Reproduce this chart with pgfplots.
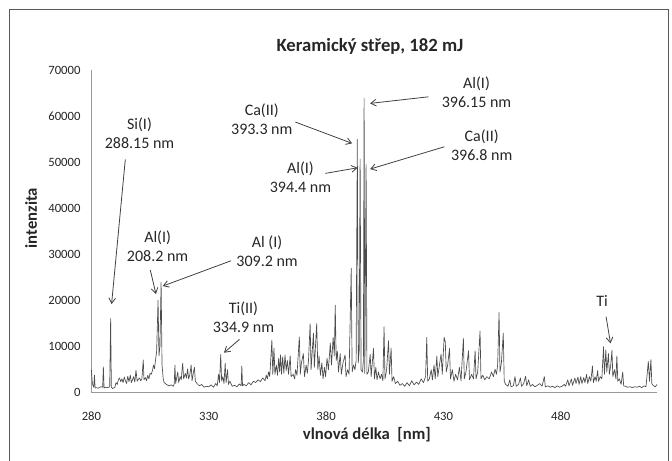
\documentclass[border=0pt]{standalone}
\usepackage{fontspec}
\setmainfont{Carlito}
\usepackage{pgfplots}
\pgfplotsset{compat=1.18}
\usetikzlibrary{arrows.meta}
\tikzset{
  ann/.style={align=center, font=\fontsize{12}{14.25}\selectfont, text=black!85, inner sep=0pt},
  arr/.style={black!75, line width=0.6pt, -{Straight Barb[length=4pt,width=5pt]}},
}
\begin{document}
\begin{tikzpicture}
\path[use as bounding box] (0,0) rectangle (504pt,345.75pt);
\draw[black!65, line width=0.9pt] (7.1pt,-2pt) -- (7.1pt,338.8pt) -- (501.4pt,338.8pt) -- (501.4pt,-2pt);
\begin{axis}[
  at={(68.55pt,51.2pt)}, anchor=south west,
  scale only axis, width=424.2pt, height=242pt,
  xmin=280, xmax=521, ymin=0, ymax=70000,
  axis x line=bottom, axis y line=left,
  axis line style={-, black!40, line width=0.9pt},
  xtick={280,330,380,430,480}, ytick={0,10000,...,70000},
  major tick length=0pt,
  tick label style={font=\fontsize{9.5}{11}\selectfont, text=black!85},
  /pgf/number format/assume math mode=true,
  /pgf/number format/1000 sep={},
  scaled y ticks=false,
  xticklabel style={anchor=center, yshift=-17.5pt},
  yticklabel style={anchor=east, inner sep=0pt, xshift=-8pt},
  xlabel={vlnová délka\ \ [nm]}, ylabel={intenzita},
  label style={font=\bfseries\fontsize{12.5}{15}\selectfont, text=black!85},
  xlabel style={at={(axis description cs:0.487,-0.131)}, anchor=center},
  ylabel style={at={(axis description cs:-0.1068,0.5415)}, anchor=center},
  clip=false,
]
\addplot[line width=0.5pt, black!70, line join=round] coordinates {
(280,5000) (280.4,2000) (281,1200) (281.3,3800) (281.6,1000) (282,1100) (283,1000) (284,1300) (284.8,1200) (285.1,5600) (285.4,1000) (286,1200) (287,1100) (287.8,1300) (288.2,16100) (288.5,1200) (289,900) (290,1200)
(290.5,2200) (291,1800) (291.5,2800) (292,3200) (292.5,2400) (293,3000) (293.5,2200) (294,3400) (294.5,2600) (295,2000) (295.5,3600) (296,2400) (296.6,3800) (297,2200) (297.5,2800) (298,3500) (298.5,2300) (299,4900) (299.5,2500) (300,2900) (300.5,3200) (301,2600) (301.5,3000) (302.1,7100) (302.4,2800) (303,3300) (303.5,2600) (304,3800) (304.5,3000) (305,4200) (305.5,4000) (306,4800) (306.5,6000) (306.9,5200) (307.3,7000) (307.8,9000) (308.4,20100) (308.8,8000) (309.2,10000) (309.7,24000) (310.1,6000) (310.6,3000) (311,2200) (312,1800) (313,1500) (314,1700) (315,1400) (315.3,2000) (315.6,6000) (315.9,2000) (316.8,4500) (317.2,2200) (317.8,3500) (318.3,2800) (318.6,4800) (318.9,6400) (319.3,3000) (320,4200) (320.5,3200) (321,5200) (321.4,3000) (321.9,3800) (322.5,6000) (322.9,2600) (323.5,4500) (323.9,5500) (324.3,2500) (325,2000) (326,1500) (327,1800) (328,1200) (329,1400) (330,1300) (331,1700) (332,1200) (333,2000) (333.6,1500) (334.2,4000) (334.6,2200) (335.1,8300) (335.5,2500) (336,3500) (336.5,2000) (337,6400) (337.4,2200) (338,5000) (338.4,1800) (339,2500) (340,1400) (341,1600) (342,1300) (343,1900) (343.8,1500) (344.1,5800) (344.4,1500) (345,1800) (346,1500) (347,2200) (348,1700) (349,2500) (350,2200) (351,2800) (352,2400) (353,3200) (354,2600) (354.5,3800) (355,3000) (355.5,4500) (356,3500) (356.9,11400) (357.3,4000) (357.8,9700) (358.2,4000) (358.8,6000) (359.3,3800) (359.8,7500) (360.2,4500) (360.6,8200) (361,4000) (361.5,7800) (362,4200) (362.5,8200) (363,4800) (363.5,7000) (364,4000) (364.7,8000) (365.1,3500) (366,4000) (366.6,3000) (367,5000) (367.6,3800) (368.6,12100) (369,4000) (369.5,6500) (370.3,8500) (370.8,3500) (371.5,6000) (372,4200) (372.5,7000) (373.2,15000) (373.6,5000) (374.6,12900) (375,5500) (376,15000) (376.5,5000) (377,8000) (377.6,3800) (378.2,6500) (378.7,3000) (379.3,5500) (379.8,3500) (380.4,7500) (381,5000) (381.8,10800) (382.3,6000) (383,12000) (383.5,8000) (383.9,19000) (384.3,7000) (384.8,9000) (385.3,4500) (386,8500) (386.5,4000) (387.2,6500) (388.1,8200) (388.5,3500) (389.2,5000) (389.8,4000) (390.7,27000) (391.1,4500) (391.7,6000) (392.3,5000) (392.8,7000) (393.3,55000) (393.7,6500) (394.1,9000) (394.5,50700) (394.9,5000) (395.5,4500) (395.9,7000) (396.2,63900) (396.5,4200) (397.05,49500) (397.4,4000) (398,4500) (398.8,8300) (399.2,3500) (399.6,6000) (400.2,9600) (400.6,3000) (401.2,5500) (401.7,2800) (402.3,4500) (403,3000) (403.6,4000) (404.2,2600) (404.7,14300) (405.1,3000) (405.8,5000) (406.6,11300) (407,4000) (407.7,9700) (408.1,2500) (408.8,3500) (409.5,2000) (410.5,2500) (411.5,1600) (412.5,2000) (413.5,1400) (414.5,2200) (415.5,1500) (416.5,2600) (417.5,1700) (418.5,2300) (419.5,1800) (420.5,3000) (421.5,2200) (422.4,3500) (422.9,12000) (423.3,2500) (424,3000) (424.8,5000) (425.3,2800) (426,6000) (426.5,3000) (427.2,8000) (427.6,3500) (428.3,6000) (429,8400) (429.5,4000) (430.3,12000) (430.8,11000) (431.2,4500) (431.8,6000) (432.6,9600) (433,3000) (433.8,5000) (434.5,2500) (435.2,4000) (436,2800) (436.8,5500) (437.5,2600) (438.5,11800) (438.9,3000) (439.6,4500) (440.7,9100) (441.1,2800) (442,4000) (442.8,3000) (443.5,9100) (443.9,3000) (444.6,4500) (445.6,13400) (446,3000) (446.8,3800) (447.6,2800) (448.5,3500) (449.5,3000) (450.5,4500) (451.3,3500) (452,5100) (452.6,4000) (453.1,6000) (453.7,17400) (454.1,4500) (454.7,6500) (455.5,12900) (455.9,2500) (456.5,1800) (457.5,1400) (458.3,2800) (458.8,1300) (459.8,1500) (460.5,3500) (461,1400) (462,1800) (462.8,3200) (463.3,1400) (464.2,2000) (465,3600) (465.5,1500) (466.3,2800) (467,1400) (468,1800) (469,1300) (470,1600) (471,2000) (472,1400) (473,3500) (473.4,1300) (474.5,1500) (475.5,1200) (476.5,1400) (477.5,1100) (478.5,1500) (479.5,1200) (480.5,1400) (481.5,1800) (482,1400) (483,2800) (483.5,1500) (484.5,3000) (485,1600) (486,3200) (486.5,2000) (487.3,3400) (487.8,1800) (488.5,3500) (489,2000) (489.8,3300) (490.3,2200) (491,4000) (491.5,2000) (492.2,3500) (492.8,2500) (493.5,5800) (493.9,2200) (494.6,3500) (495.1,2500) (495.7,4800) (496.1,2500) (496.8,3500) (497.5,3000) (498.2,10000) (498.6,4000) (499.2,9300) (499.6,4500) (500.3,8500) (500.7,4000) (501.3,6000) (501.8,9200) (502.2,3500) (502.9,5000) (503.5,3000) (503.9,8000) (504.3,2500) (505,3000) (505.7,1800) (506.4,4500) (506.8,1500) (507.5,1400) (508.5,1200) (509.5,1300) (510.5,1100) (511.5,1300) (512.5,1200) (513.5,1400) (514.5,1100) (515.5,1500) (516.3,1300) (516.8,4000) (517.3,6800) (517.8,2500) (518.4,7200) (518.8,2000) (519.5,1500) (520.3,1300) (521,1800)
};
\node[font=\bfseries\fontsize{14}{17}\selectfont, text=black!85] at (rel axis cs:0.4926,1.072) {Keramický střep, 182 mJ};
\node[ann] at (axis cs:300.5,56220) {Si(I)\\288.15 nm};
\draw[arr] (axis cs:294.45,50620) -- (axis cs:288.6,19240);
\node[ann] at (axis cs:308.2,31860) {Al(I)\\208.2 nm};
\draw[arr] (axis cs:305.1,26610) -- (axis cs:307.5,21410);
\node[ann] at (axis cs:354.85,30730) {Al (I)\\309.2 nm};
\draw[arr] (axis cs:339.5,28630) -- (axis cs:310.4,23140);
\node[ann] at (axis cs:344.8,16420) {Ti(II)\\334.9 nm};
\draw[arr] (axis cs:343.1,11580) -- (axis cs:336.5,8680);
\node[ann] at (axis cs:352.6,59260) {Ca(II)\\393.3 nm};
\draw[arr] (axis cs:366.9,58720) -- (axis cs:391.1,54100);
\node[ann] at (axis cs:369.1,46680) {Al(I)\\394.4 nm};
\draw[arr] (axis cs:379.7,47590) -- (axis cs:393.4,48800);
\node[ann] at (axis cs:444.1,65180) {Al(I)\\396.15 nm};
\draw[arr] (axis cs:423.6,64200) -- (axis cs:398.75,62770);
\node[ann] at (axis cs:446.3,53680) {Ca(II)\\396.8 nm};
\draw[arr] (axis cs:430.4,53360) -- (axis cs:398.75,48520);
\node[ann] at (axis cs:497.6,19950) {Ti};
\draw[arr] (axis cs:499.3,16480) -- (axis cs:501.2,10710);
\end{axis}
\end{tikzpicture}
\end{document}
